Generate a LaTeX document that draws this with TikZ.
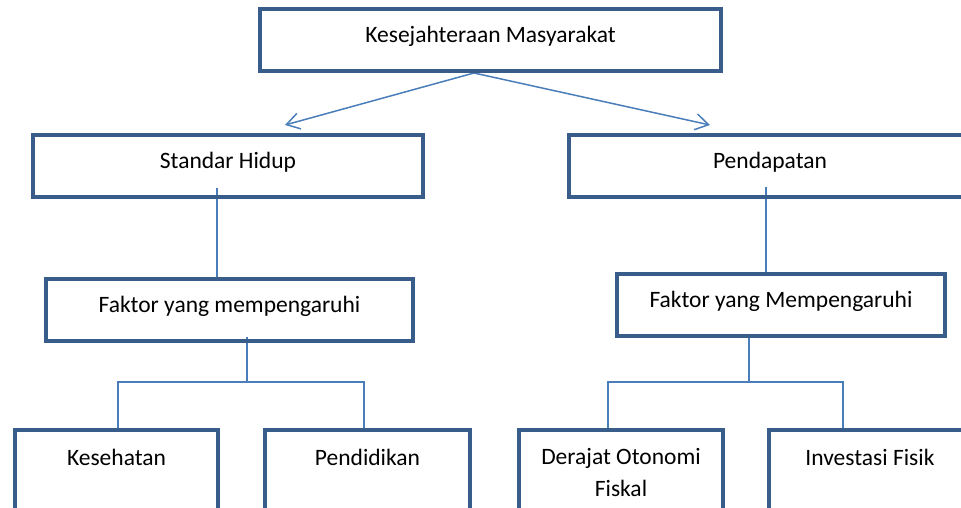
\documentclass[tikz,border=0pt]{standalone}
\usepackage{fontspec}
\setmainfont{Carlito}
\usetikzlibrary{arrows.meta,calc}
\definecolor{boxblue}{HTML}{385D8A}
\definecolor{linkblue}{HTML}{4A7EBB}
\pgfdeclarelayer{bg}
\pgfsetlayers{bg,main}
\begin{document}
\begin{tikzpicture}[x=1pt,y=-1pt,
  font=\fontsize{23.5}{32}\selectfont,
  box/.style={draw=boxblue,line width=4pt,rectangle,inner sep=0pt,minimum height=62pt,text height=15pt,text depth=10pt},
  lowbox/.style={draw=boxblue,line width=4pt,rectangle,inner sep=0pt,minimum height=100pt},
  lbl/.style={inner sep=0pt,anchor=base,align=center},
  conn/.style={draw=linkblue,line width=1.5pt},
  arr/.style={conn,-{Straight Barb[length=13pt,width=16pt,line width=1.5pt]}}]
\useasboundingbox (0,0) rectangle (961,508);
\clip (0,0) rectangle (961,508);
\node[box,minimum width=461pt] (top) at (490.5,40) {Kesejahteraan Masyarakat};
\node[box,minimum width=390pt] (sh) at (228,166) {Standar Hidup};
\node[box,minimum width=367pt] (fl) at (229.5,310) {Faktor yang mempengaruhi};
\node[box,minimum width=402pt] (pd) at (770,166) {Pendapatan};
\node[box,minimum width=328pt] (fr) at (781,305) {Faktor yang Mempengaruhi};
\node[lowbox,minimum width=203pt] (kes) at (116.5,480) {};
\node[lowbox,minimum width=205pt] (pen) at (367.5,480) {};
\node[lowbox,minimum width=204pt] (der) at (621,480) {};
\node[lowbox,minimum width=202pt] (inv) at (870,480) {};
\node[lbl] (keslbl) at (116.5,465) {Kesehatan};
\node[lbl] (penlbl) at (367.5,465) {Pendidikan};
\node[lbl] (derlbl) at (621,496) {Derajat Otonomi\\Fiskal};
\node[lbl] (invlbl) at (870,465) {Investasi Fisik};
\coordinate (ts) at ($(top.south)+(-16.5,0)$);
\coordinate (ltip) at (285,125);
\coordinate (rtip) at (710,125);
\coordinate (sh1) at ($(sh.south)+(-11,-11)$);
\coordinate (fl1) at ($(fl.south)+(17.5,-6)$);
\coordinate (pd1) at ($(pd.south)+(-4,-12)$);
\coordinate (fr1) at ($(fr.south)+(-32,-1)$);
\coordinate (lj) at (fl1 |- 0,382);
\coordinate (rj) at (fr1 |- 0,382);
\coordinate (kesj) at (118,382);
\coordinate (penj) at (364,382);
\coordinate (derj) at (608,382);
\coordinate (invj) at (843,382);
\begin{pgfonlayer}{bg}
\fill[white] (0,0) rectangle (961,508);
\draw[arr] (ts) -- (ltip);
\draw[arr] (ts) -- (rtip);
\draw[conn] (sh1) -- (sh1 |- fl.north);
\draw[conn] (pd1) -- (pd1 |- fr.north);
\draw[conn] (fl1) -- (lj);
\draw[conn] (kes.north -| kesj) -- (kesj) -- (penj) -- (pen.north -| penj);
\draw[conn] (fr1) -- (rj);
\draw[conn] (der.north -| derj) -- (derj) -- (invj) -- (inv.north -| invj);
\end{pgfonlayer}
\end{tikzpicture}
\end{document}
